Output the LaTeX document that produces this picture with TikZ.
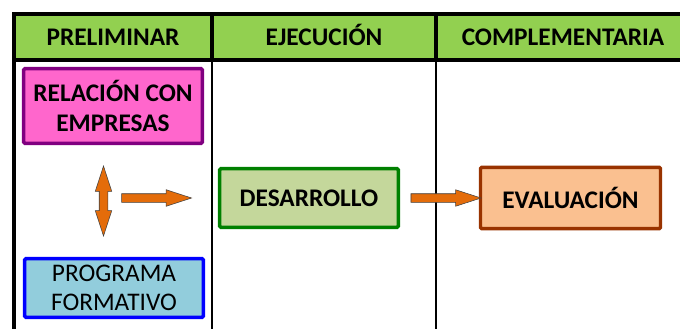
\documentclass[tikz,border=0pt]{standalone}
\usepackage{fontspec}
\setmainfont{Carlito}
\usepackage{xcolor}
\usepackage{tikz}
\usetikzlibrary{shapes.arrows,calc}

\definecolor{hdrgreen}{HTML}{92D050}
\definecolor{arrorange}{HTML}{E46C0A}
\definecolor{relfill}{HTML}{FF66CC}
\definecolor{reldraw}{HTML}{800080}
\definecolor{profill}{HTML}{92CDDC}
\definecolor{prodraw}{HTML}{0000FF}
\definecolor{desfill}{HTML}{C4D79B}
\definecolor{desdraw}{HTML}{008000}
\definecolor{evafill}{HTML}{FAC090}
\definecolor{evadraw}{HTML}{993300}

\begin{document}
\begin{tikzpicture}[x=0.75pt,y=-0.75pt,
                    thick,
                    cell/.style n args={4}{draw=#1,fill=#2,
                    line width=2.6pt,
                    rounded corners=1pt,
                    minimum width=#3,
                    minimum height=#4,
                    inner sep=0pt,
                    align=center,
                    font=\fontsize{19}{22}\selectfont\bfseries},
                    hdr/.style={anchor=base,font=\fontsize{19}{22}\selectfont\bfseries},
                    fatarrow/.style={single arrow,draw=black!75,fill=arrorange,
                    line width=0.4pt,inner sep=3pt,
                    minimum height=52.5pt,
                    single arrow head extend=3pt,
                    single arrow tip angle=36},
                    fatdarrow/.style={double arrow,draw=black!75,fill=arrorange,
                    line width=0.4pt,inner sep=3pt,
                    minimum height=52.5pt,
                    double arrow head extend=3pt,
                    double arrow tip angle=36,
                    shape border rotate=90}]
    \clip (0,0) rectangle (680,329);
    % table frame
    \fill[hdrgreen] (14,14) rectangle (690,60);
    \draw[line width=3pt] (690,14) -- (14,14) -- (14,329);
    \draw[line width=3pt] (14,60) -- (690,60);
    \draw[line width=3pt] (212,14) -- (212,60) (436,14) -- (436,60);
    \draw[line width=2pt] (212,60) -- (212,329) (436,60) -- (436,329);

    \node[hdr] (hpre) at (113,45) {PRELIMINAR};
    \node[hdr] (hejec) at (324,45) {EJECUCIÓN};
    \node[hdr] (hcomp) at (563,45) {COMPLEMENTARIA};

    \node[cell={reldraw}{relfill}{134pt}{56pt}](relacion) at (113,106)
        {RELACIÓN CON\\EMPRESAS};
    \node[cell={prodraw}{profill}{134pt}{44pt},font=\fontsize{19}{22}\selectfont](programa) at (114,288)
        {PROGRAMA\\FORMATIVO};
    \node[cell={desdraw}{desfill}{134pt}{44pt}](desarrollo) at (309,198)
        {DESARROLLO};
    \node[cell={evadraw}{evafill}{135pt}{46pt}](evaluacion) at (570.5,198)
        {EVALUACIÓN};

    \node[fatdarrow](dflecha) at ($(relacion.south)!0.5!(programa.north)+(-10,0)$) {};
    \node[fatarrow](flecha1) at (150,198) {};
    \node[fatarrow](flecha2) at ($(desarrollo.east)!0.5!(evaluacion.west)$) {};
\end{tikzpicture}
\end{document}
